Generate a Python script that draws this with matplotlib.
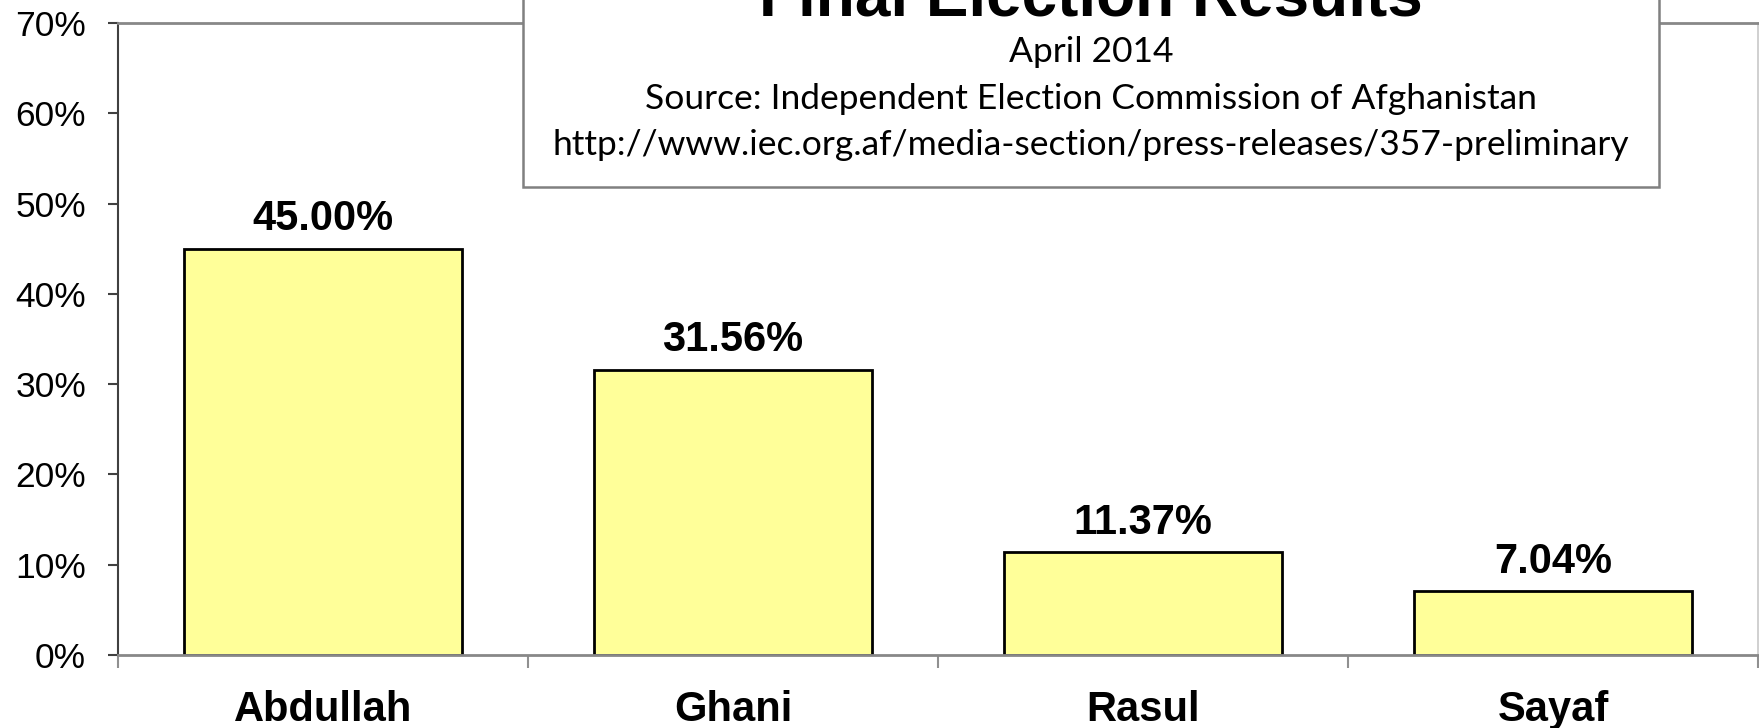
import matplotlib.pyplot as plt
from matplotlib.patches import Rectangle
from matplotlib.ticker import FuncFormatter

candidates = ["Abdullah", "Ghani", "Rasul", "Sayaf"]
shares = [45.00, 31.56, 11.37, 7.04]
value_labels = ["45.00%", "31.56%", "11.37%", "7.04%"]
y_ticks = [0, 10, 20, 30, 40, 50, 60, 70]

title = "Final Election Results"
subtitle_lines = [
    "April 2014",
    "Source: Independent Election Commission of Afghanistan",
    "http://www.iec.org.af/media-section/press-releases/357-preliminary",
]

W, H = 1759, 728
fig = plt.figure(figsize=(W / 100, H / 100), dpi=100)
fig.patch.set_facecolor("white")

ax = fig.add_axes([118 / W, 1 - 655 / H, (1758 - 118) / W, (655 - 23) / H])
x = list(range(len(candidates)))
ax.bar(x, shares, width=0.68, color="#FFFF99", edgecolor="black", linewidth=2, zorder=2)
ax.set_xlim(-0.5, len(candidates) - 0.5)
ax.set_ylim(0, 70)

for xi, v, lab in zip(x, shares, value_labels):
    ax.annotate(lab, (xi, v), xytext=(0, 7), textcoords="offset points",
                ha="center", va="bottom", fontsize=30, fontweight="bold",
                family="Liberation Sans")

ax.set_yticks(y_ticks)
ax.yaxis.set_major_formatter(FuncFormatter(lambda v, p: f"{v:.0f}%"))
ax.tick_params(axis="y", direction="out", length=7, width=1.5, color="#404040",
               pad=16, labelsize=25.5)
for t in ax.get_yticklabels():
    t.set_family("Liberation Sans")

# category boundary ticks, labels centred on bars
ax.set_xticks([i - 0.5 for i in range(len(candidates) + 1)])
ax.set_xticklabels([])
ax.set_xticks(x, minor=True)
ax.set_xticklabels(candidates, minor=True)
ax.tick_params(axis="x", which="major", direction="out", length=9, width=1.5, color="#909090")
ax.tick_params(axis="x", which="minor", length=0, pad=25, labelsize=30)
for t in ax.get_xticklabels(minor=True):
    t.set_family("Liberation Sans")
    t.set_fontweight("bold")

ax.spines["left"].set_color("#404040")
ax.spines["left"].set_linewidth(1.5)
ax.spines["bottom"].set_color("#888888")
ax.spines["bottom"].set_linewidth(2)
ax.spines["bottom"].set_zorder(3)
ax.spines["top"].set_color("#888888")
ax.spines["top"].set_linewidth(2)
ax.spines["right"].set_color("#c8c8c8")
ax.spines["right"].set_linewidth(1.2)

# title box, cut by the top edge of the image
box = Rectangle((523 / W, 1 - 187 / H), (1659 - 523) / W, 200 / H,
                transform=fig.transFigure, facecolor="white", edgecolor="#808080",
                linewidth=1.8, zorder=5, clip_on=False)
fig.patches.append(box)

fig.text((523 + 1659) / 2 / W, 1 - 15 / H, title, ha="center", va="baseline",
         fontsize=46, fontweight="bold", family="Liberation Sans", zorder=6)
for line, base in zip(subtitle_lines, [62, 109, 155]):
    fig.text((523 + 1659) / 2 / W, 1 - base / H, line, ha="center", va="baseline",
             fontsize=25.5, family="Lato", zorder=6)

fig.savefig("out.png", dpi=100, facecolor="white")
